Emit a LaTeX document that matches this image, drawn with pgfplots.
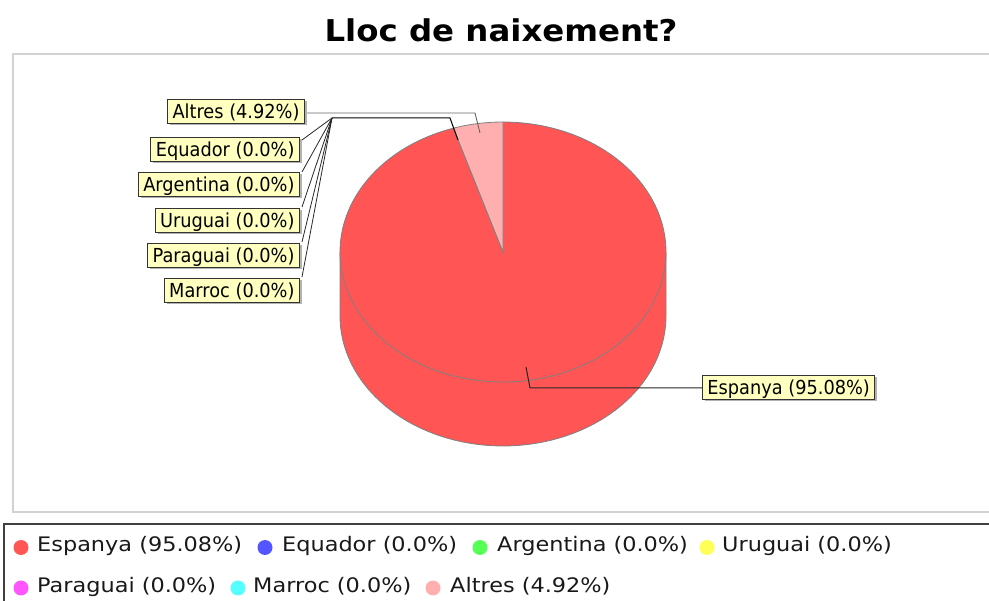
\documentclass[border=0pt]{standalone}
\usepackage{pgfplots}
\pgfplotsset{compat=1.18}
\usepackage{fontspec}
\setmainfont{DejaVu Sans}
\newfontfamily\titlefont[FakeStretch=1.08]{DejaVu Sans}
\newfontfamily\lblfontfam[FakeStretch=0.92]{DejaVu Sans}
\newfontfamily\legfontfam[FakeStretch=1.12]{DejaVu Sans}
\usetikzlibrary{shadows}
\definecolor{cEsp}{RGB}{255,85,85}
\definecolor{cEqu}{RGB}{85,85,255}
\definecolor{cArg}{RGB}{85,255,85}
\definecolor{cUru}{RGB}{255,255,85}
\definecolor{cPar}{RGB}{255,85,255}
\definecolor{cMar}{RGB}{85,255,255}
\definecolor{cAlt}{RGB}{255,175,175}
\definecolor{lblbg}{RGB}{255,255,192}
\definecolor{frame}{RGB}{210,210,210}
\tikzset{
  lbl/.style={fill=lblbg, draw=black!80, line width=0.9pt,
    font=\lblfontfam\fontsize{19.3}{22}\selectfont,
    inner xsep=5pt, inner ysep=0pt, minimum height=24pt,
    text height=17pt, text depth=1pt,
    drop shadow={shadow xshift=2.5pt, shadow yshift=-2.5pt, fill=black!30, opacity=1}},
  leg/.style={font=\legfontfam\fontsize{20}{24}\selectfont, anchor=base west, inner sep=0pt, text=black!90},
}
% data (percent)
\def\pEsp{95.08}
\def\pEqu{0.0}
\def\pArg{0.0}
\def\pUru{0.0}
\def\pPar{0.0}
\def\pMar{0.0}
\def\pAlt{4.92}
% geometry of the 3D pie (pixel units)
\def\pcx{503}\def\pcy{252}\def\prx{163}\def\pry{130}\def\pdepth{64}
\pgfmathsetmacro\aStart{90}
\pgfmathsetmacro\aEsp{90-3.6*\pEsp}
\pgfmathsetmacro\aAlt{\aEsp-3.6*(\pEqu+\pArg+\pUru+\pPar+\pMar+\pAlt)}
\pgfmathsetmacro\pcyb{\pcy+\pdepth}
\pgfmathsetmacro\pxl{\pcx-\prx}
\pgfmathsetmacro\pxr{\pcx+\prx}
\begin{document}
\begin{tikzpicture}
\begin{axis}[
  width=989pt, height=601pt, scale only axis, hide axis, clip=false,
  xmin=0, xmax=989, ymin=0, ymax=601, y dir=reverse,
]
% frames
\draw[frame, line width=1.6pt] (axis cs:989,54) -- (axis cs:13,54) -- (axis cs:13,512) -- (axis cs:989,512);
\draw[black!75, line width=1.6pt] (axis cs:4,601) -- (axis cs:4,524) -- (axis cs:989,524);
% title
\node[font=\titlefont\bfseries\fontsize{30}{33}\selectfont, anchor=base, inner sep=0pt] at (axis cs:501,42) {Lloc de naixement?};
% side of the pie (front, Espanya)
\addplot[fill=cEsp, draw=gray, line width=0.8pt, domain=180:360, samples=90, variable=\t]
  ({\pcx+\prx*cos(\t)}, {\pcyb-\pry*sin(\t)}) -- (axis cs:\pxr,\pcy) -- (axis cs:\pxl,\pcy) -- cycle;
% top faces
\addplot[fill=cEsp, draw=gray, line width=0.8pt, domain=\aEsp:\aStart, samples=160, variable=\t]
  ({\pcx+\prx*cos(\t)}, {\pcy-\pry*sin(\t)}) -- (axis cs:\pcx,\pcy) -- cycle;
\addplot[fill=cAlt, draw=gray, line width=0.8pt, domain=\aAlt:\aEsp, samples=20, variable=\t]
  ({\pcx+\prx*cos(\t)}, {\pcy-\pry*sin(\t)}) -- (axis cs:\pcx,\pcy) -- cycle;
% label links
\draw[gray!80!black, line width=0.9pt] (axis cs:302,113) -- (axis cs:475,113) -- (axis cs:480,133);
\draw[black, line width=1pt] (axis cs:458,140) -- (axis cs:450,118) -- (axis cs:332,118);
\draw[black!85, line width=0.8pt] (axis cs:332,118) -- (axis cs:302,140);
\draw[black!85, line width=0.8pt] (axis cs:332,118) -- (axis cs:302,172);
\draw[black!85, line width=0.8pt] (axis cs:332,118) -- (axis cs:302,207);
\draw[black!85, line width=0.8pt] (axis cs:332,118) -- (axis cs:302,242);
\draw[black!85, line width=0.8pt] (axis cs:332,118) -- (axis cs:302,277);
\draw[black!85, line width=1pt] (axis cs:526,367) -- (axis cs:530,388) -- (axis cs:702,388);
% labels
\node[lbl, anchor=east] at (axis cs:305,111) {Altres (\pAlt\%)};
\node[lbl, anchor=east] at (axis cs:300,149) {Equador (\pEqu\%)};
\node[lbl, anchor=east] at (axis cs:300,184) {Argentina (\pArg\%)};
\node[lbl, anchor=east] at (axis cs:300,220) {Uruguai (\pUru\%)};
\node[lbl, anchor=east] at (axis cs:300,255) {Paraguai (\pPar\%)};
\node[lbl, anchor=east] at (axis cs:300,290) {Marroc (\pMar\%)};
\node[lbl, anchor=west] at (axis cs:702,387) {Espanya (\pEsp\%)};
% legend
\fill[cEsp] (axis cs:21,547.5) circle[radius=7.5pt];
\node[leg] at (axis cs:37,552) {Espanya (\pEsp\%)};
\fill[cEqu] (axis cs:265,547.5) circle[radius=7.5pt];
\node[leg] at (axis cs:282,552) {Equador (\pEqu\%)};
\fill[cArg] (axis cs:480,547.5) circle[radius=7.5pt];
\node[leg] at (axis cs:497,552) {Argentina (\pArg\%)};
\fill[cUru] (axis cs:707,547.5) circle[radius=7.5pt];
\node[leg] at (axis cs:722,552) {Uruguai (\pUru\%)};
\fill[cPar] (axis cs:21,588) circle[radius=7.5pt];
\node[leg] at (axis cs:37,593) {Paraguai (\pPar\%)};
\fill[cMar] (axis cs:238,588) circle[radius=7.5pt];
\node[leg] at (axis cs:253,593) {Marroc (\pMar\%)};
\fill[cAlt] (axis cs:433,588) circle[radius=7.5pt];
\node[leg] at (axis cs:450,593) {Altres (\pAlt\%)};
\end{axis}
\pgfresetboundingbox
\path[use as bounding box] (0,0) rectangle (989pt,601pt);
\end{tikzpicture}
\end{document}
